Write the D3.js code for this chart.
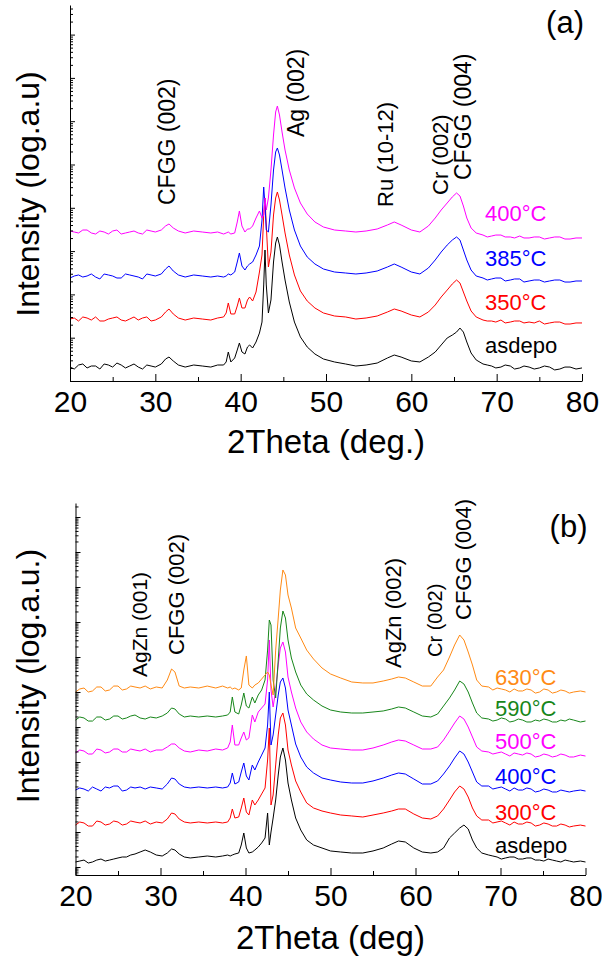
<!DOCTYPE html>
<html>
<head>
<meta charset="utf-8">
<script src="https://cdn.jsdelivr.net/npm/d3@7"></script>
<style>
  body { margin: 0; background: #fff; }
  svg text { font-family: "Liberation Sans", Arial, sans-serif; }
</style>
</head>
<body>
<svg id="chart" width="602" height="958"></svg>
<script>
// ---------- Panel (a): XRD scans, as-deposited and annealed ----------
const twoThetaA = [20,20.5,21,21.5,22,22.5,23,23.5,24,24.5,
  25,25.5,26,26.5,27,27.5,28,28.5,29,29.5,30,
  30.7,31.2,31.6,32.1,32.7,33.5,34.5,35.5,36.5,
  37.3,38.0,38.3,38.55,38.85,39.3,39.6,39.85,40.15,40.5,
  40.8,41.05,41.4,41.8,42.2,42.5,42.7,42.85,43.0,43.25,
  43.55,43.85,44.1,44.3,44.55,44.85,45.2,45.7,46.3,47.0,
  47.8,48.7,49.7,51,52.3,53.5,54.7,56,57.2,58,
  58.8,60,61,62,62.8,63.5,64.2,64.8,65.3,65.7,
  66.1,66.5,67,67.6,
  68.4,68.9,69.4,69.9,70.5,71.0,71.6,72.1,72.7,73.2,
  73.8,74.4,75,75.6,76.2,76.8,77.4,78.0,78.6,79.3,80];

const asdepoA = [210,189,234,247,200,222,222,189,247,234,
  210,260,234,200,222,247,210,189,234,222,210,
  247,322,358,290,234,210,234,222,210,
  234,234,275,467,275,340,520,755,467,420,
  610,679,578,795,1280,2300,16500,106000,16500,3720,
  7430,56000,153800,211700,138300,56000,21500,6680,2300,1040,
  610,420,322,275,247,222,234,260,340,398,
  358,290,275,358,467,679,984,1150,1350,1670,
  1350,795,443,306,
  247,234,222,200,210,234,222,189,200,222,
  210,189,200,222,210,180,189,210,210,189,200];

const t350A = [270,285,243,301,285,256,301,243,243,270,
  285,301,256,243,270,301,256,285,301,243,256,
  301,392,460,353,285,256,285,270,256,
  285,301,372,633,353,353,540,826,485,485,
  742,871,704,1136,3290,8130,68200,168400,40100,4290,
  9530,68200,168400,231700,151400,68200,26200,8130,2810,1200,
  704,485,372,317,301,270,285,317,392,460,
  414,334,301,392,569,871,1260,1740,2150,1830,
  1136,704,414,301,
  256,243,243,230,256,219,230,243,243,219,
  230,219,243,207,219,230,230,207,207,219,219];

const t385A = [239,266,281,252,266,296,252,227,296,281,
  266,239,239,296,281,266,252,227,296,281,266,
  296,386,453,347,281,252,281,266,252,
  266,252,266,296,281,329,560,904,453,366,
  453,504,560,813,1310,5230,30200,11600,3070,2760,
  11600,74600,194400,240500,165700,74600,28700,8900,3070,1310,
  731,504,386,329,312,296,312,347,429,504,
  429,329,296,407,623,953,1380,1800,2120,1800,
  1060,623,366,266,
  239,215,227,239,239,204,215,227,227,193,
  204,215,215,193,204,215,215,193,193,204,204];

const t400A = [291,276,262,307,307,262,248,291,276,248,
  291,307,248,262,276,291,262,248,307,291,276,
  307,380,423,342,291,262,291,276,262,
  276,248,262,276,248,262,470,844,380,276,
  324,324,380,581,844,581,682,1680,890,1680,
  7460,48000,163100,224400,139000,56300,21600,7460,2870,1290,
  719,470,360,307,291,276,291,324,401,470,
  401,307,276,380,581,890,1290,1780,2200,1870,
  1100,581,342,262,
  235,212,223,235,235,212,212,201,223,201,
  201,212,212,190,201,212,212,190,190,201,201];

const namesA = ["asdepo", "350\u00B0C", "385\u00B0C", "400\u00B0C"];
const stackFactorsA = [1, 10, 100, 1000];

// ---------- Panel (b): XRD scans up to 630 °C ----------
const twoThetaB = [20,20.5,21,21.5,22,22.5,23,23.5,24,24.5,
  25,25.5,26,26.5,27,
  27.6,28.2,28.8,29.5,30.2,30.8,31.3,31.7,32.2,32.8,
  33.5,34.5,35.5,36.5,37.3,37.9,38.2,38.45,38.75,39.2,
  39.5,39.8,40.1,40.4,40.8,41.1,41.5,41.9,42.3,42.6,
  42.8,43.0,43.25,43.55,43.85,44.1,44.4,44.7,45.0,45.4,
  45.9,46.5,47.2,48,49,50,51.2,52.5,53.8,55,
  56.2,57.2,58,58.8,59.8,60.8,61.8,62.6,63.3,64,
  64.6,65.2,65.7,66.2,66.7,67.2,67.8,
  68.6,69.1,69.6,70.1,70.6,71.1,71.6,72.1,72.6,73.1,
  73.6,74.1,74.6,75.1,75.6,76.1,76.6,77.1,77.6,78.1,
  78.6,79.4,80];

const asdepoB = [139,148,158,130,139,158,169,148,158,169,
  181,193,193,220,235,
  268,306,268,220,206,251,327,306,235,193,
  181,193,206,193,206,220,206,220,235,251,
  425,936,349,251,268,306,373,485,674,3490,
  425,1000,2510,8210,42500,138900,251200,114000,25100,8210,
  2510,1140,591,425,349,287,268,251,251,287,
  349,454,553,518,349,268,251,268,349,674,
  936,1300,1580,1220,591,349,251,
  220,206,193,169,181,193,193,169,169,181,
  181,158,158,148,169,158,148,139,158,148,
  139,148,139];

const t300B = [158,193,181,148,148,206,193,158,169,206,
  193,158,169,206,193,
  181,206,169,193,181,235,349,327,235,193,
  181,193,181,193,181,193,251,454,251,268,
  485,936,373,306,821,591,821,1220,1810,11400,
  93600,591,1140,8210,59100,180800,251200,114000,22000,8210,
  2870,1390,674,485,398,349,306,287,268,306,
  349,398,454,454,327,251,235,287,454,821,
  1390,2060,1690,1000,485,287,220,
  220,181,193,206,181,158,193,169,169,193,
  181,148,158,181,169,148,148,169,158,139,
  148,158,148];

const t400B = [158,181,169,148,193,169,148,193,181,206,
  206,148,158,193,181,
  193,169,193,181,169,235,349,327,235,193,
  181,193,181,193,181,193,251,485,235,268,
  518,936,398,306,821,591,1000,1580,2510,11400,
  100000,3060,5910,22000,82100,193100,251200,130100,30600,11400,
  3270,1390,720,485,349,306,268,251,251,287,
  349,425,485,454,327,235,235,287,454,769,
  1300,2060,1690,1000,518,268,206,
  206,169,181,193,169,148,181,158,158,181,
  169,139,148,169,158,139,139,158,148,139,
  148,158,148];

const t500B = [181,220,206,169,169,235,220,181,193,235,
  235,193,193,235,220,
  206,235,193,220,220,268,327,327,251,206,
  193,220,206,235,220,251,373,1140,306,306,
  485,720,425,485,2200,1390,2680,3490,4540,22000,
  306200,11400,3730,11400,59100,180800,268300,138900,26800,10000,
  3490,1390,720,454,306,251,235,220,220,251,
  306,373,425,398,306,235,235,268,425,769,
  1300,2060,1690,1000,518,268,206,
  193,169,181,193,169,148,181,169,158,181,
  169,139,148,169,158,139,148,169,158,139,
  139,158,148];

const t590B = [158,193,181,148,148,193,193,158,169,206,
  206,169,181,206,220,
  181,169,193,181,206,251,349,327,235,193,
  206,193,206,193,206,220,268,720,268,235,
  425,936,398,349,720,485,821,1140,2200,15800,
  114000,82100,2200,674,8210,67400,206200,130100,30600,9360,
  3730,1580,877,591,398,306,268,251,251,268,
  287,327,373,349,268,206,193,235,398,674,
  1140,2060,1690,1000,485,251,181,
  169,148,158,181,169,139,148,169,158,139,
  139,158,148,169,158,139,139,158,148,169,
  158,139,148];

const t630B = [100,122,130,100,107,139,139,107,114,148,
  148,114,122,148,139,
  130,148,122,139,130,220,454,373,148,130,
  139,130,148,130,148,130,139,122,130,114,
  130,425,1070,158,130,158,181,235,306,373,
  306,158,82,1580,13000,82100,306200,220300,59100,25100,
  6740,3490,1580,877,485,327,251,193,181,181,
  206,235,268,251,193,148,148,268,425,1000,
  2200,4250,3060,1390,591,220,148,
  139,114,130,122,114,100,122,107,107,122,
  114,93,100,122,114,93,100,114,107,93,
  100,107,100];

const namesB = ["asdepo", "300\u00B0C", "400\u00B0C", "500\u00B0C", "590\u00B0C", "630\u00B0C"];
const stackFactorsB = [1, 10, 100, 1000, 1e4, 1e5];

const xMajorTicks = [20, 30, 40, 50, 60, 70, 80];
const xMinorTicks = [25, 35, 45, 55, 65, 75];

// ---------- styling / layout ----------
const colA = ["#000000", "#ff0000", "#0000ff", "#ff00ff"];
const colB = ["#000000", "#ff0000", "#0000ff", "#ff00ff", "#17861a", "#ff8a14"];

const svg = d3.select("#chart");
const FONT = "'Liberation Sans', Arial, sans-serif";

function logTickValues(domain) {
  const lo = Math.floor(Math.log10(domain[0])), hi = Math.ceil(Math.log10(domain[1]));
  const major = [], minor = [];
  for (let e = lo; e <= hi; e++) {
    for (let k = 1; k <= 9; k++) {
      const v = k * Math.pow(10, e);
      if (v < domain[0] * 0.9999 || v > domain[1] * 1.0001) continue;
      (k === 1 ? major : minor).push(v);
    }
  }
  return { major, minor };
}

function drawPanel(cfg) {
  const g = svg.append("g");
  const x = d3.scaleLinear().domain([20, 80]).range([cfg.left, cfg.right]);
  const y = d3.scaleLog().domain(cfg.yDomain).range([cfg.bottom, cfg.top]);
  const line = d3.line().x(d => x(d[0])).y(d => y(d[1]));

  // scans (stacked by constant factors on the log axis)
  cfg.series.forEach((vals, i) => {
    const pts = cfg.theta.map((t, j) => [t, vals[j] * cfg.factors[i]]);
    g.append("path")
      .attr("d", line(pts))
      .attr("fill", "none")
      .attr("stroke", cfg.colors[i])
      .attr("stroke-width", 1)
      .attr("stroke-linejoin", "round");
  });

  // x axis, inward ticks
  const xa = g.append("g").attr("transform", `translate(0,${cfg.bottom})`)
    .call(d3.axisBottom(x).tickValues(xMajorTicks).tickSize(-7).tickSizeOuter(0)
      .tickPadding(cfg.tickPad).tickFormat(d3.format("d")));
  xa.attr("font-family", FONT).attr("font-size", 30);
  xa.selectAll("text").attr("fill", "#000");
  g.append("g").attr("transform", `translate(0,${cfg.bottom})`)
    .call(d3.axisBottom(x).tickValues(xMinorTicks).tickSize(-4).tickSizeOuter(0).tickFormat(""))
    .select(".domain").remove();

  // log y axis, inward ticks
  const lt = logTickValues(cfg.yDomain);
  g.append("g").attr("transform", `translate(${cfg.left},0)`)
    .call(d3.axisLeft(y).tickValues(lt.major).tickSize(-5).tickSizeOuter(0).tickFormat(""));
  g.append("g").attr("transform", `translate(${cfg.left},0)`)
    .call(d3.axisLeft(y).tickValues(lt.minor).tickSize(-3).tickSizeOuter(0).tickFormat(""))
    .select(".domain").remove();
  g.selectAll(".domain, .tick line").attr("stroke", "#000").attr("stroke-width", 1);

  // axis titles
  g.append("text")
    .attr("x", (cfg.left + cfg.right) / 2).attr("y", cfg.xTitleY)
    .attr("text-anchor", "middle").attr("font-size", 33)
    .text(cfg.xTitle);
  g.append("text")
    .attr("transform", `translate(${cfg.yTitleX},${cfg.yTitleY}) rotate(-90)`)
    .attr("dy", "0.35em").attr("text-anchor", "middle").attr("font-size", 32)
    .text(cfg.yTitle);

  // panel letter
  g.append("text").attr("x", cfg.right + 2).attr("y", cfg.letterY)
    .attr("text-anchor", "end").attr("font-size", 31).text(cfg.letter);

  // reflection labels (vertical)
  cfg.peaks.forEach(p => {
    g.append("text")
      .attr("transform", `translate(${x(p.at)},${p.base}) rotate(-90)`)
      .attr("dy", "0.35em").attr("font-size", p.size)
      .text(p.text);
  });

  // sample labels
  cfg.names.forEach((n, i) => {
    g.append("text").attr("x", cfg.nameX).attr("y", cfg.nameY[i])
      .attr("font-size", 22).attr("fill", i === 0 ? "#000" : cfg.colors[i])
      .text(n);
  });
}

drawPanel({
  theta: twoThetaA,
  series: [asdepoA, t350A, t385A, t400A],
  factors: stackFactorsA,
  colors: colA,
  names: namesA,
  left: 70, right: 582, top: 5, bottom: 381,
  yDomain: [100, Math.pow(10, 2 + 376 / 43.3)],
  tickPad: 10,
  xTitle: "2Theta (deg.)", xTitleY: 453,
  yTitle: "Intensity (log.a.u)", yTitleX: 28, yTitleY: 194,
  letter: "(a)", letterY: 33,
  peaks: [
    { text: "CFGG (002)", at: 31.4, base: 205, size: 23 },
    { text: "Ag (002)", at: 46.5, base: 137, size: 23 },
    { text: "Ru (10-12)", at: 56.9, base: 207, size: 22 },
    { text: "Cr (002)", at: 63.4, base: 195, size: 22 },
    { text: "CFGG (004)", at: 66.1, base: 180, size: 23 }
  ],
  nameX: 485, nameY: [353, 310, 266, 221]
});

drawPanel({
  theta: twoThetaB,
  series: [asdepoB, t300B, t400B, t500B, t590B, t630B],
  factors: stackFactorsB,
  colors: colB,
  names: namesB,
  left: 75.5, right: 585.5, top: 503, bottom: 875,
  yDomain: [Math.pow(10, 2 - 8 / 35), Math.pow(10, 2 + 364 / 35)],
  tickPad: 10,
  xTitle: "2Theta (deg)", xTitleY: 949,
  yTitle: "Intensity (log.a.u.)", yTitleX: 28, yTitleY: 676,
  letter: "(b)", letterY: 537,
  peaks: [
    { text: "AgZn (001)", at: 27.6, base: 677, size: 21 },
    { text: "CFGG (002)", at: 31.9, base: 655, size: 22 },
    { text: "AgZn (002)", at: 57.35, base: 668, size: 22 },
    { text: "Cr (002)", at: 62.3, base: 657, size: 20 },
    { text: "CFGG (004)", at: 65.6, base: 620, size: 22 }
  ],
  nameX: 495, nameY: [853, 820, 784, 749, 716, 685]
});
</script>
</body>
</html>
